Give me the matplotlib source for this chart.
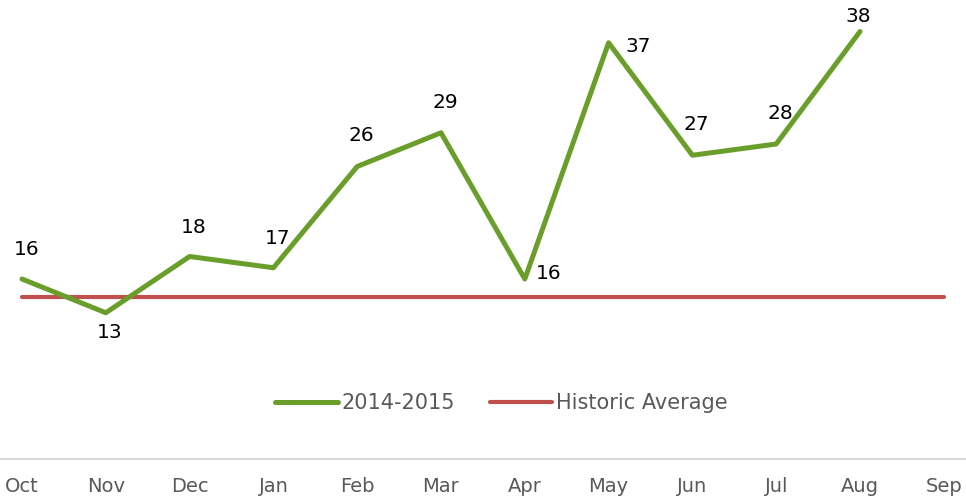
import matplotlib
matplotlib.use("Agg")
import matplotlib.pyplot as plt

#dados
meses = ['Oct', 'Nov', 'Dec', 'Jan', 'Feb', 'Mar', 'Apr', 'May', 'Jun', 'Jul', 'Aug', 'Sep']
serie_2014 = [16, 13, 18, 17, 26, 29, 16, 37, 27, 28, 38]
media_historica = [14.4] * len(meses)

#posicao dos rotulos (dx, dy em pontos)
offsets = [(3, 21), (3, -14), (3, 21), (3, 21), (3, 22), (3, 22),
           (17, 4), (21, -3), (3, 22), (3, 22), (-1, 11)]

verde = '#6a9e2b'
vermelho = '#c0504d'
cinza = '#595959'

fig = plt.figure(figsize=(9.66, 5.01), dpi=100)
ax = fig.add_axes([0, 0.0838, 1, 0.9162])

x = list(range(len(meses)))
ax.plot(x[:len(serie_2014)], serie_2014, color=verde, lw=3.6, label='2014-2015', solid_capstyle='round', zorder=3)
ax.plot(x, media_historica, color=vermelho, lw=3, label='Historic Average', solid_capstyle='round', zorder=2)

#rotulos de dados
for i, v in enumerate(serie_2014):
    dx, dy = offsets[i]
    ax.annotate(str(v), (i, v), xytext=(dx, dy), textcoords='offset points',
                ha='center', va='center', fontsize=14.5, color='black')

ax.set_xlim(-22 / 83.8, (966 - 22) / 83.8)
ax.set_ylim(0, 40.8)
ax.set_xticks(x)
ax.set_xticklabels(meses, fontsize=14, color=cinza)
ax.tick_params(axis='x', length=0, pad=13)
ax.set_yticks([])
for s in ['top', 'left', 'right']:
    ax.spines[s].set_visible(False)
ax.spines['bottom'].set_color('#d9d9d9')
ax.spines['bottom'].set_linewidth(1.5)

leg = ax.legend(loc='center', bbox_to_anchor=(0.519, 0.122), ncol=2, frameon=False,
                handlelength=3.0, handletextpad=0.15, columnspacing=1.7,
                prop={'size': 15})
for t in leg.get_texts():
    t.set_color(cinza)

fig.savefig('out.png', dpi=100)
